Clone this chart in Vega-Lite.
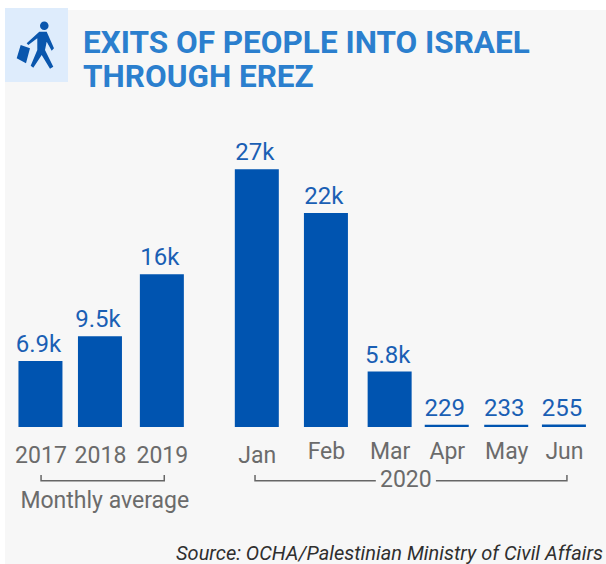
{"$schema":"https://vega.github.io/schema/vega-lite/v6.json","width":601,"height":554,"autosize":"none","padding":{"left":5,"top":10,"right":0,"bottom":0},"background":"#ffffff","view":{"fill":"#f7f7f7","stroke":null},
"title":{"text":["EXITS OF PEOPLE INTO ISRAEL","THROUGH EREZ"],"anchor":"start","frame":"group","dx":78,"dy":85,"font":"Roboto","fontWeight":"bold","fontSize":31.5,"lineHeight":34,"color":"#2b7fce","offset":0},
"datasets":{"bars":[{"period":"2017","slot":0.59,"exits":6900,"label":"6.9k"},{"period":"2018","slot":1.58,"exits":9500,"label":"9.5k"},{"period":"2019","slot":2.61,"exits":16000,"label":"16k"},{"period":"Jan","slot":4.19,"exits":27000,"label":"27k"},{"period":"Feb","slot":5.34,"exits":22400,"label":"22k"},{"period":"Mar","slot":6.40,"exits":5800,"label":"5.8k"},{"period":"Apr","slot":7.35,"exits":229,"label":"229"},{"period":"May","slot":8.34,"exits":233,"label":"233"},{"period":"Jun","slot":9.30,"exits":255,"label":"255"}],
"brackets":[{"seg":"avg","o":1,"slot":0.60,"y":-5026},{"seg":"avg","o":2,"slot":0.60,"y":-5623},{"seg":"avg","o":3,"slot":2.65,"y":-5623},{"seg":"avg","o":4,"slot":2.65,"y":-5026},{"seg":"a","o":1,"slot":4.16,"y":-5026},{"seg":"a","o":2,"slot":4.16,"y":-5623},{"seg":"a","o":3,"slot":6.17,"y":-5623},{"seg":"b","o":1,"slot":7.17,"y":-5623},{"seg":"b","o":2,"slot":9.35,"y":-5623},{"seg":"b","o":3,"slot":9.35,"y":-5026}],
"notes":[{"t":"Monthly average","slot":1.66,"y":-7749},{"t":"2020","slot":6.67,"y":-5550}],
"source":[{"t":"Source: OCHA/Palestinian Ministry of Civil Affairs","slot":9.95,"y":-13250}],
"icon":[{"slot":0.524,"y":40000}]},
"encoding":{"x":{"field":"slot","type":"quantitative","scale":{"domain":[0,10],"nice":false,"zero":false,"padding":0},"axis":{"offset":-137,"title":null,"grid":false,"domain":false,"ticks":false,"values":[0.59,1.58,2.61,4.19,5.34,6.40,7.35,8.34,9.30],"labelExpr":"{'0.59':'2017','1.58':'2018','2.61':'2019','4.19':'Jan','5.34':'Feb','6.4':'Mar','7.35':'Apr','8.34':'May','9.3':'Jun'}[''+datum.value]","labelFont":"Roboto","labelFontSize":23,"labelColor":"#6b6b6b","labelOverlap":false,"labelBound":false,"labelFlush":false,"labelBaseline":"top","labelPadding":{"condition":{"test":"datum.value>5","value":13},"value":17}}},"y":{"field":"exits","type":"quantitative","scale":{"domain":[-14346,43665],"nice":false,"zero":false},"axis":null}},
"layer":[
{"data":{"name":"icon"},"mark":{"type":"point","filled":true,"size":4,"opacity":1,"strokeWidth":0,"color":"#deecfc","shape":"M-31.5,-37H31.5V37H-31.5Z","clip":false},"encoding":{"y":{"field":"y","type":"quantitative"}}},
{"data":{"name":"icon"},"mark":{"type":"point","filled":true,"size":4,"opacity":1,"strokeWidth":0,"color":"#0a56ad","shape":"M3.5,-19.3a4.3,4.3 0 1,0 8.6,0a4.3,4.3 0 1,0 -8.6,0ZM2.8,-13.3L10.2,-13.3L17.5,3.3L15.2,5.7L10.2,-3.3L8.5,5L16.8,21.7L13.5,23.7L5.2,10L-3.2,22.7L-5.8,20.7L0.8,5L0.8,-6.7L-8.2,0L-9.8,-1.7ZM-15.8,0L-6.5,3.3L-10.5,18.3L-19.8,13.3Z"},"encoding":{"y":{"field":"y","type":"quantitative"}}},
{"data":{"name":"bars"},"mark":{"type":"bar","size":44,"color":"#0054b0"}},
{"data":{"name":"bars"},"mark":{"type":"text","font":"Roboto","fontSize":24,"color":"#1a5fb4","baseline":"bottom","dy":-4,"dx":-2},"encoding":{"text":{"field":"label"}}},
{"data":{"name":"brackets"},"mark":{"type":"line","color":"#666666","strokeWidth":1.5,"clip":false},"encoding":{"y":{"field":"y","type":"quantitative"},"detail":{"field":"seg"},"order":{"field":"o","type":"quantitative"}}},
{"data":{"name":"notes"},"mark":{"type":"text","font":"Roboto","fontSize":23,"color":"#6b6b6b","baseline":"middle"},"encoding":{"y":{"field":"y","type":"quantitative"},"text":{"field":"t"}}},
{"data":{"name":"source"},"mark":{"type":"text","font":"Roboto","fontStyle":"italic","fontSize":20,"color":"#2f2f2f","baseline":"middle","align":"right"},"encoding":{"y":{"field":"y","type":"quantitative"},"text":{"field":"t"}}}
]}
